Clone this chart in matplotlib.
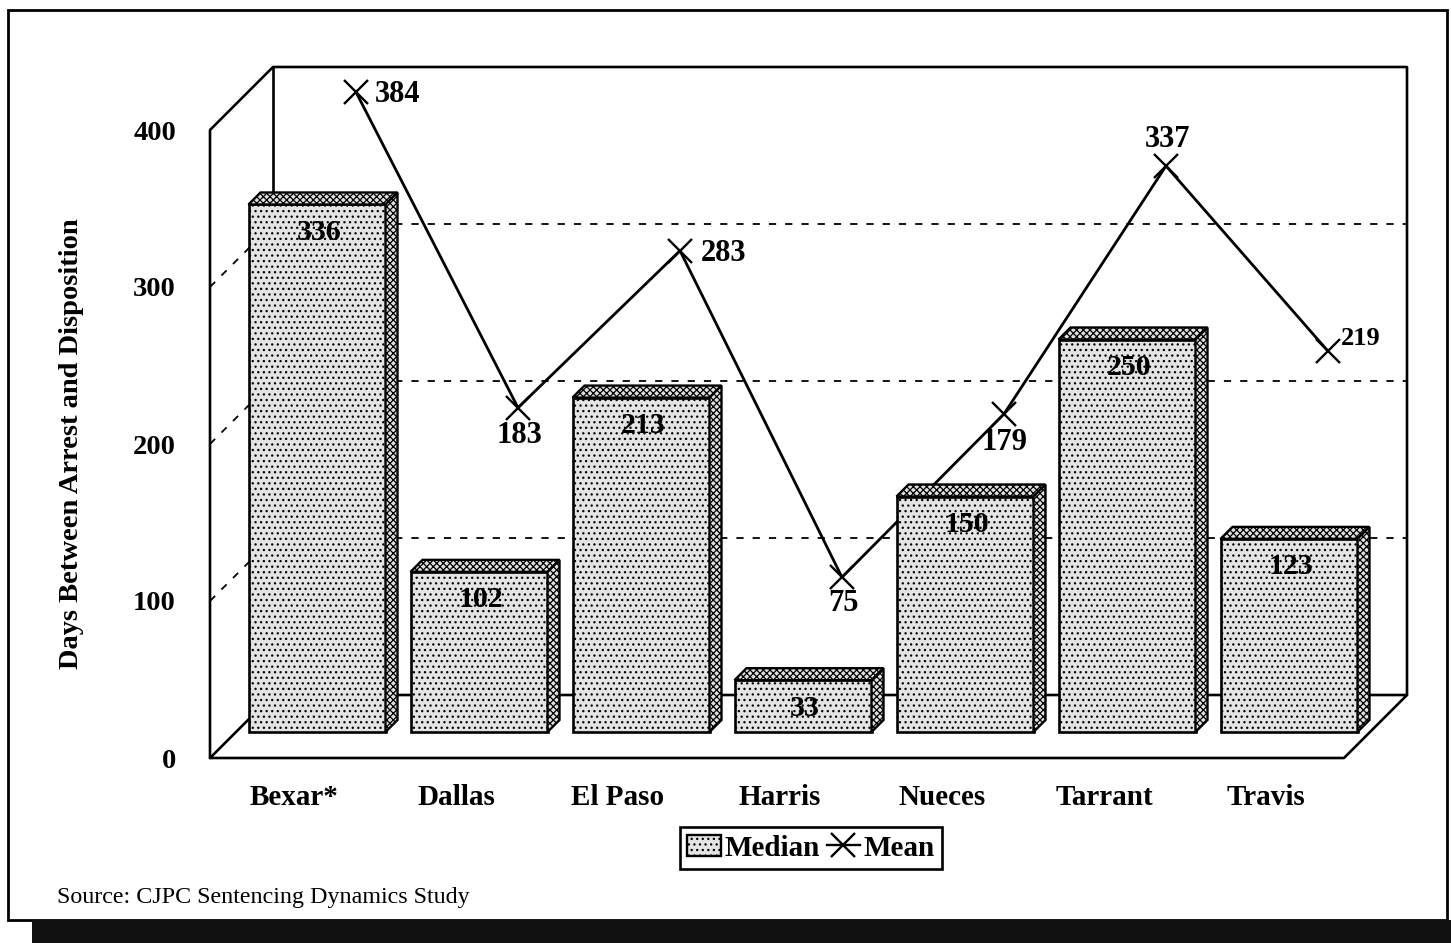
import matplotlib
matplotlib.use("Agg")
import matplotlib.pyplot as plt
from matplotlib.patches import Polygon, Rectangle, Patch
from matplotlib.lines import Line2D

categories = ["Bexar*", "Dallas", "El Paso", "Harris", "Nueces", "Tarrant", "Travis"]
median_days = [336, 102, 213, 33, 150, 250, 123]
mean_days = [384, 183, 283, 75, 179, 337, 219]
y_ticks = [0, 100, 200, 300, 400]
grid_values = [100, 200, 300]
mean_label_offsets = [(42, -2), (1, -28), (44, -3), (1, -26), (1, -29), (2, 26), (33, 13)]
mean_label_sizes = [22, 22, 22, 22, 22, 22, 19]

W, H = 1451, 943
plt.rcParams["font.family"] = ["Liberation Serif", "DejaVu Serif"]
plt.rcParams["hatch.linewidth"] = 0.9
fig = plt.figure(figsize=(W / 100, H / 100), dpi=100, facecolor="white")

L, R, B, T = 210, 1344, 758, 130
ax = fig.add_axes([L / W, 1 - B / H, (R - L) / W, (B - T) / H])
ax.set_xlim(-0.5, 6.5)
ax.set_ylim(0, 400)
ax.patch.set_alpha(0)
for s in ax.spines.values():
    s.set_visible(False)

DX = 7 / (R - L)
DY = 400 / (B - T)
xl, xr = -0.5, 6.5
back_x, back_y = 63 * DX, 63 * DY
top_y = 400 + back_y

# outer frame and scanned band
fig.add_artist(Rectangle((8 / W, 1 - 920 / H), (1447 - 8) / W, (920 - 10) / H, transform=fig.transFigure,
                         fc="none", ec="black", lw=2))
fig.add_artist(Rectangle((32 / W, 0), (W - 32) / W, 23 / H, transform=fig.transFigure,
                         fc="#111111", ec="none"))

# 3D box
frame = dict(color="black", lw=1.9, clip_on=False, zorder=1, solid_capstyle="round")
ax.plot([xl, xl, xl + back_x, xr + back_x, xr + back_x], [0, 400, top_y, top_y, back_y], **frame)
ax.plot([xl + back_x, xl + back_x], [top_y, back_y], **frame)
ax.plot([xl + back_x, xr + back_x, xr, xl, xl + back_x], [back_y, back_y, 0, 0, back_y], **frame)

# dashed gridlines
for g in grid_values:
    ax.plot([xl, xl + back_x, xr + back_x], [g, g + back_y, g + back_y], color="black", lw=1.3,
            dashes=(4, 5), clip_on=False, zorder=1)

# mean line on the back plane
mean_x = [i + 65 * DX for i in range(len(categories))]
mean_y = [v + back_y for v in mean_days]
ax.plot(mean_x, mean_y, color="black", lw=2.0, marker="x", ms=17, mew=1.7, clip_on=False, zorder=2)

# bars
off_x, off_y = 26 * DX, 26 * DY
bar_w = 137 * DX
depth_x, depth_y = 12 * DX, 12 * DY
for i, v in enumerate(median_days):
    x0 = i + off_x - bar_w / 2
    x1 = x0 + bar_w
    y0 = off_y
    y1 = v + off_y
    ax.bar(i + off_x, v, width=bar_w, bottom=off_y, facecolor="#e4e4e4", edgecolor="black",
           hatch="...", lw=1.9, clip_on=False, zorder=3)
    ax.add_patch(Polygon([(x0, y1), (x0 + depth_x, y1 + depth_y), (x1 + depth_x, y1 + depth_y), (x1, y1)],
                         closed=True, fc="#e0e0e0", ec="black", hatch="xxxxx", lw=1.7, clip_on=False, zorder=3))
    ax.add_patch(Polygon([(x1, y0), (x1 + depth_x, y0 + depth_y), (x1 + depth_x, y1 + depth_y), (x1, y1)],
                         closed=True, fc="#e0e0e0", ec="black", hatch="xxxxx", lw=1.7, clip_on=False, zorder=3))
    ax.annotate(str(v), (i + off_x, y1), xytext=(1.5, -28 * 0.72), textcoords="offset points", ha="center",
                va="center", fontsize=21.5, fontweight="bold", annotation_clip=False, zorder=5)

# mean labels
for x, y, v, (ox, oy), fs in zip(mean_x, mean_y, mean_days, mean_label_offsets, mean_label_sizes):
    ax.annotate(str(v), (x, y), xytext=(ox * 0.72, oy * 0.72), textcoords="offset points", ha="center",
                va="center", fontsize=fs, fontweight="bold", annotation_clip=False, zorder=5)

# axes text
ax.set_xticks([i + 3 * DX for i in range(len(categories))])
ax.set_xticklabels(categories, fontsize=21, fontweight="bold")
ax.set_yticks(y_ticks)
ax.set_yticklabels([str(t) for t in y_ticks], fontsize=20.5, fontweight="bold")
ax.tick_params(axis="x", length=0, pad=19)
ax.tick_params(axis="y", length=0, pad=24.5)
ax.set_ylabel("Days Between Arrest and Disposition", fontsize=20.5, fontweight="bold")
ax.yaxis.set_label_coords((84 - L) / (R - L), 0.5)

# legend
handles = [Patch(facecolor="#e4e4e4", edgecolor="black", hatch="...", lw=1.7),
           Line2D([], [], color="black", marker="x", ms=17, mew=1.7, lw=1.7)]
leg = ax.legend(handles, ["Median", "Mean"], ncol=2, loc="center",
                bbox_to_anchor=(811 / W, 1 - 848 / H), bbox_transform=fig.transFigure,
                fontsize=21, frameon=True, fancybox=False, framealpha=1, edgecolor="black",
                handlelength=1.15, handletextpad=0.12, columnspacing=0.25, borderpad=0.25, borderaxespad=0)
leg.get_frame().set_linewidth(1.9)
for t in leg.get_texts():
    t.set_fontweight("bold")

fig.text(57 / W, 1 - 897 / H, "Source: CJPC Sentencing Dynamics Study", fontsize=17.3, va="center", ha="left")

fig.savefig("out.png", dpi=100)
